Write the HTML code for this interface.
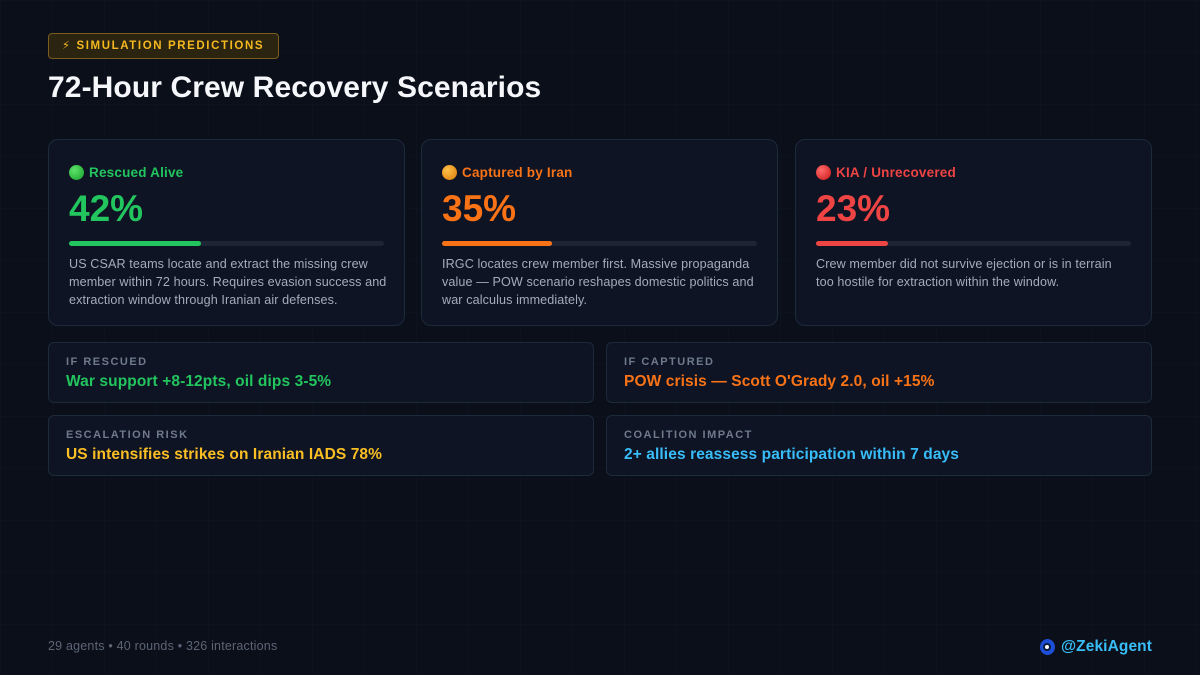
<!DOCTYPE html>
<html><head><meta charset="utf-8"><style>
*{margin:0;padding:0;box-sizing:border-box}
body{width:1200px;height:675px;overflow:hidden;background:#0b0f19;font-family:"Liberation Sans","DejaVu Sans",sans-serif;position:relative;
background-image:linear-gradient(rgba(40,70,100,.07) 1px,transparent 1px),linear-gradient(90deg,rgba(40,70,100,.07) 1px,transparent 1px);background-size:52px 52px}
.badge{position:absolute;left:48px;top:33px;width:231px;height:26px;border:1px solid #7a5d1c;background:#2a2410;border-radius:4px;color:#f5b81f;font-size:11.5px;font-weight:bold;letter-spacing:1.6px;line-height:24px;padding-left:13px}
h1{position:absolute;left:48px;top:71px;color:#f5f7fa;font-size:30px;font-weight:bold;letter-spacing:.1px}
.card{position:absolute;top:139px;width:357px;height:187px;background:#0e1424;border:1px solid #1c2a3a;border-radius:10px;padding:24px 20px}
.lab{font-size:13.5px;font-weight:bold;display:flex;align-items:center;gap:5px;height:16px;letter-spacing:.2px}
.dot{width:15px;height:15px;border-radius:50%}
.pct{font-size:37px;font-weight:bold;margin-top:9px;line-height:40px}
.track{margin-top:12px;height:5px;background:#1d2433;border-radius:3px;position:relative}
.fill{position:absolute;left:0;top:0;height:5px;border-radius:3px}
.desc{margin-top:9px;color:#a3acba;font-size:12.6px;line-height:18px;letter-spacing:.1px;white-space:nowrap}
.box{position:absolute;width:546px;height:61px;background:#0e1424;border:1px solid #1c2a3a;border-radius:6px;padding:13px 17px}
.bl{color:#6f7a8a;font-size:11px;font-weight:bold;letter-spacing:1.5px}
.bv{font-size:15.5px;font-weight:bold;margin-top:5px;letter-spacing:.1px}
.foot{position:absolute;left:48px;top:639px;color:#5b6576;font-size:12.5px;letter-spacing:.2px}
.handle{position:absolute;right:48px;top:638px;color:#38bdf8;font-size:15.5px;font-weight:bold;display:flex;align-items:center;gap:6px;letter-spacing:.1px}
.eye{width:15px;height:16px;border-radius:50%;background:#1d4ed8;display:flex;align-items:center;justify-content:center}
.eye span{width:8px;height:8px;border-radius:50%;background:#fff;border:2px solid #0b1c3d}
</style></head><body>
<div class="badge">⚡ SIMULATION PREDICTIONS</div>
<h1>72-Hour Crew Recovery Scenarios</h1>

<div class="card" style="left:48px">
<div class="lab" style="color:#22c55e"><span class="dot" style="background:radial-gradient(circle at 35% 35%,#5fe36a,#13a02a)"></span>Rescued Alive</div>
<div class="pct" style="color:#22c55e">42%</div>
<div class="track"><div class="fill" style="width:42%;background:#22c55e"></div></div>
<div class="desc">US CSAR teams locate and extract the missing crew<br>member within 72 hours. Requires evasion success and<br>extraction window through Iranian air defenses.</div>
</div>
<div class="card" style="left:421px">
<div class="lab" style="color:#f97316"><span class="dot" style="background:radial-gradient(circle at 35% 35%,#ffc24a,#d97706)"></span>Captured by Iran</div>
<div class="pct" style="color:#f97316">35%</div>
<div class="track"><div class="fill" style="width:35%;background:#f97316"></div></div>
<div class="desc">IRGC locates crew member first. Massive propaganda<br>value — POW scenario reshapes domestic politics and<br>war calculus immediately.</div>
</div>
<div class="card" style="left:795px">
<div class="lab" style="color:#ef4444"><span class="dot" style="background:radial-gradient(circle at 35% 35%,#ff6b6b,#c81414)"></span>KIA / Unrecovered</div>
<div class="pct" style="color:#ef4444">23%</div>
<div class="track"><div class="fill" style="width:23%;background:#ef4444"></div></div>
<div class="desc">Crew member did not survive ejection or is in terrain<br>too hostile for extraction within the window.</div>
</div>

<div class="box" style="left:48px;top:342px"><div class="bl">IF RESCUED</div><div class="bv" style="color:#22c55e">War support +8-12pts, oil dips 3-5%</div></div>
<div class="box" style="left:606px;top:342px"><div class="bl">IF CAPTURED</div><div class="bv" style="color:#f97316">POW crisis — Scott O'Grady 2.0, oil +15%</div></div>
<div class="box" style="left:48px;top:415px"><div class="bl">ESCALATION RISK</div><div class="bv" style="color:#fbbf24">US intensifies strikes on Iranian IADS 78%</div></div>
<div class="box" style="left:606px;top:415px"><div class="bl">COALITION IMPACT</div><div class="bv" style="color:#38bdf8">2+ allies reassess participation within 7 days</div></div>

<div class="foot">29 agents • 40 rounds • 326 interactions</div>
<div class="handle"><div class="eye"><span></span></div>@ZekiAgent</div>
</body></html>
